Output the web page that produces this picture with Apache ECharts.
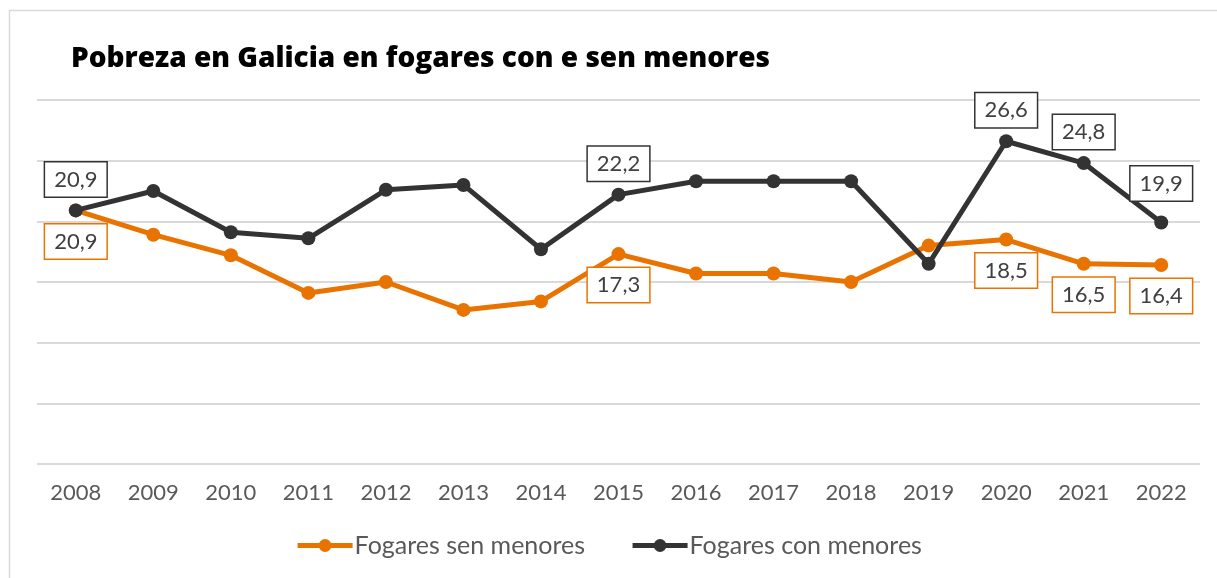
<!DOCTYPE html>
<html>
<head>
<meta charset="utf-8">
<script src="https://cdn.jsdelivr.net/npm/echarts@6/dist/echarts.min.js"></script>
<style>
  html, body { margin: 0; padding: 0; background: #fff; }
</style>
</head>
<body>
<div id="chart" style="width:1217px;height:578px;"></div>
<script type="text/javascript">
// datos
var anos = ['2008','2009','2010','2011','2012','2013','2014','2015','2016','2017','2018','2019','2020','2021','2022'];
var senMenores = [20.9, 18.9, 17.2, 14.1, 15.0, 12.7, 13.4, 17.3, 15.7, 15.7, 15.0, 18.0, 18.5, 16.5, 16.4];
var conMenores = [20.9, 22.5, 19.1, 18.6, 22.6, 23.0, 17.7, 22.2, 23.3, 23.3, 23.3, 16.5, 26.6, 24.8, 19.9];
var etiquetados = ['2008','2015','2020','2021','2022'];   // anos con etiqueta

var cor = { sen: '#E97300', con: '#333333' };

function fmt(v) { return v.toFixed(1).replace('.', ','); }

function puntos(valores, corBorde) {
    return valores.map(function (v, i) {
        var item = { value: v };
        if (etiquetados.indexOf(anos[i]) >= 0) {
            item.label = { show: true, borderColor: corBorde };
        }
        return item;
    });
}

var datosCon = puntos(conMenores, cor.con);
// a ultima etiqueta negra vai mais arriba, cunha liña guia
datosCon[14].label.distance = 15;
datosCon[14].labelLine = { show: true, lineStyle: { color: '#999', width: 1 } };

var etiqueta = {
    show: false,
    formatter: function (p) { return fmt(p.value); },
    fontFamily: 'Lato',
    fontSize: 22,
    color: '#404040',
    backgroundColor: '#fff',
    borderWidth: 1.5,
    padding: [6, 9],
    distance: 7
};

var myChart = echarts.init(document.getElementById('chart'));
var option = {
    animation: false,
    textStyle: { fontFamily: 'Lato' },
    graphic: [{
        type: 'rect',
        shape: { x: 9.5, y: 10.5, width: 1300, height: 700 },
        style: { fill: 'none', stroke: '#d9d9d9', lineWidth: 1.5 },
        silent: true
    }],
    title: {
        text: 'Pobreza en Galicia en fogares con e sen menores',
        left: 66,
        top: 40,
        textStyle: { fontFamily: 'Open Sans', fontSize: 28, fontWeight: 800, color: '#000' }
    },
    grid: { left: 37, right: 17, top: 100, bottom: 114 },
    legend: {
        bottom: 15,
        left: 'center',
        itemWidth: 55,
        itemHeight: 16,
        itemGap: 45,
        lineStyle: { width: 5 },
        textStyle: { fontSize: 25, color: '#595959', fontFamily: 'Lato', padding: [0, 0, 0, -3] },
        data: ['Fogares sen menores', 'Fogares con menores']
    },
    xAxis: {
        type: 'category',
        data: anos,
        axisLine: { show: false },
        axisTick: { show: false },
        axisLabel: { color: '#595959', fontSize: 22, margin: 18, fontFamily: 'Lato' }
    },
    yAxis: {
        type: 'value',
        min: 0,
        max: 30,
        interval: 5,
        axisLabel: { show: false },
        axisLine: { show: false },
        axisTick: { show: false },
        splitLine: { lineStyle: { color: '#d9d9d9', width: 2 } }
    },
    series: [
        {
            name: 'Fogares sen menores',
            type: 'line',
            data: puntos(senMenores, cor.sen),
            symbol: 'circle',
            symbolSize: 14,
            itemStyle: { color: cor.sen },
            lineStyle: { color: cor.sen, width: 5 },
            label: Object.assign({}, etiqueta, { position: 'bottom' }),
            z: 2
        },
        {
            name: 'Fogares con menores',
            type: 'line',
            data: datosCon,
            symbol: 'circle',
            symbolSize: 14,
            itemStyle: { color: cor.con },
            lineStyle: { color: cor.con, width: 5 },
            label: Object.assign({}, etiqueta, { position: 'top' }),
            z: 3
        }
    ]
};
myChart.setOption(option);
</script>
</body>
</html>
